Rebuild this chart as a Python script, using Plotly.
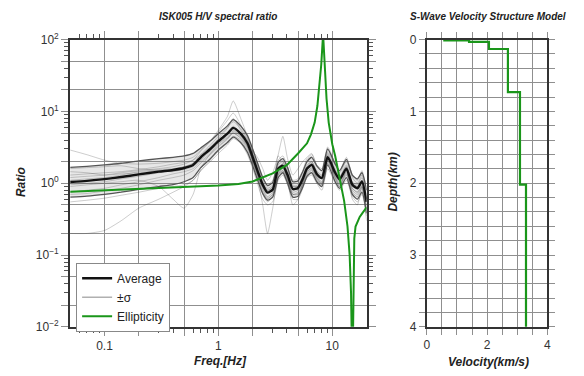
import math
import plotly.graph_objects as go

# ---------------- data: H/V spectral ratio ----------------
FREQ = [0.05, 0.07, 0.1, 0.14, 0.2, 0.3, 0.4, 0.5, 0.6, 0.7, 0.85, 1.0, 1.2, 1.35, 1.57,
        1.8, 2.0, 2.2, 2.45, 2.7, 3.0, 3.35, 3.68, 4.05, 4.5, 5.0, 5.5, 6.0, 6.6, 7.3,
        8.1, 9.1, 10.6, 11.6, 13.3, 15.0, 16.6, 18.2, 20.0]

AVERAGE = [1.04, 1.08, 1.14, 1.22, 1.33, 1.45, 1.53, 1.63, 1.8, 2.3, 3.0, 3.85, 4.9, 5.9, 4.9,
           3.6, 2.3, 1.5, 0.95, 0.74, 0.82, 1.6, 1.75, 1.3, 0.83, 0.86, 1.15, 1.6, 1.8, 1.35,
           1.18, 2.3, 1.4, 1.13, 1.6, 0.95, 0.85, 1.05, 0.55]

SIGMA_UP = [1.66, 1.72, 1.8, 1.9, 2.05, 2.2, 2.3, 2.4, 2.6, 3.1, 3.9, 4.9, 6.3, 7.7, 6.3,
            4.6, 3.0, 1.95, 1.2, 0.93, 1.03, 1.95, 2.2, 1.65, 1.05, 1.08, 1.45, 2.0, 2.3, 1.75,
            1.5, 3.0, 1.85, 1.5, 2.15, 1.3, 1.15, 1.4, 0.8]

SIGMA_DN = [0.64, 0.66, 0.7, 0.75, 0.82, 0.9, 0.96, 1.05, 1.2, 1.65, 2.2, 2.9, 3.7, 4.4, 3.7,
            2.7, 1.75, 1.13, 0.72, 0.58, 0.64, 1.2, 1.4, 1.0, 0.64, 0.66, 0.88, 1.25, 1.4, 1.05,
            0.9, 1.8, 1.05, 0.85, 1.2, 0.7, 0.6, 0.75, 0.38]

WIN_01 = [2.9, 2.5, 2.1, 1.9, 1.85, 1.9, 2.0, 2.1, 2.3, 2.9, 3.8, 5.2, 7.5, 9.5, 6.5, 4.2, 2.6, 1.8, 1.2, 0.95,
          1.1, 2.1, 2.4, 1.7, 1.1, 1.15, 1.5, 2.2, 2.5, 1.8, 1.6, 3.2, 1.9, 1.5, 2.3, 1.3, 1.1, 1.5, 0.8]
WIN_02 = [0.55, 0.58, 0.62, 0.68, 0.75, 0.85, 0.9, 0.95, 1.1, 1.5, 2.0, 2.6, 3.4, 4.2, 3.6, 2.5, 1.6, 1.0, 0.6, 0.5,
          0.55, 1.1, 1.3, 0.95, 0.6, 0.6, 0.85, 1.2, 1.3, 1.0, 0.8, 1.6, 1.0, 0.8, 1.1, 0.65, 0.55, 0.7, 0.35]
WIN_03 = [1.6, 1.65, 1.7, 1.75, 1.6, 1.5, 1.45, 1.6, 1.9, 2.5, 3.4, 4.5, 6.0, 7.2, 5.8, 4.0, 2.6, 1.7, 1.05, 0.8,
          0.9, 1.8, 2.0, 1.4, 0.9, 0.95, 1.3, 1.8, 2.0, 1.5, 1.3, 2.6, 1.6, 1.25, 1.8, 1.05, 0.95, 1.2, 0.6]
WIN_04 = [0.9, 0.95, 1.0, 1.05, 1.1, 0.9, 0.6, 0.45, 0.7, 1.6, 2.6, 3.5, 4.3, 5.0, 4.3, 3.2, 2.1, 1.35, 0.85, 0.65,
          0.75, 1.4, 1.6, 1.2, 0.75, 0.8, 1.05, 1.4, 1.65, 1.25, 1.05, 2.1, 1.3, 1.05, 1.45, 0.85, 0.75, 0.95, 0.5]
WIN_05 = [1.3, 1.35, 1.4, 1.45, 1.55, 1.7, 1.85, 1.95, 2.1, 2.5, 3.2, 4.2, 5.8, 8.0, 5.5, 3.9, 2.5, 1.6, 1.0, 0.8,
          0.9, 2.4, 2.0, 1.5, 0.95, 0.9, 1.2, 1.7, 2.0, 1.45, 1.25, 2.4, 1.5, 1.2, 1.7, 1.0, 0.9, 1.1, 0.6]
WIN_06 = [0.75, 0.8, 0.85, 0.95, 1.05, 1.2, 1.35, 1.45, 1.6, 2.0, 2.6, 3.3, 4.2, 5.2, 4.5, 3.3, 2.1, 1.35, 0.7, 0.55,
          0.65, 1.3, 1.5, 1.15, 0.7, 0.75, 1.0, 1.45, 1.6, 1.2, 1.0, 2.0, 1.25, 1.0, 1.4, 0.85, 0.75, 0.9, 0.45]
WIN_07 = [1.2, 1.25, 1.3, 1.4, 1.5, 1.6, 1.7, 1.85, 2.1, 2.8, 3.9, 5.5, 8.5, 14.0, 8.0, 4.5, 2.8, 1.8, 1.1, 0.85,
          0.95, 1.5, 1.9, 1.35, 0.85, 0.9, 1.2, 1.6, 1.9, 1.4, 1.2, 2.5, 1.5, 1.2, 1.7, 1.0, 0.9, 1.1, 0.6]
WIN_08 = [0.95, 1.0, 1.05, 1.15, 1.25, 1.4, 1.5, 1.55, 1.7, 2.1, 2.8, 3.6, 4.5, 5.4, 4.6, 3.3, 2.0, 1.2, 0.5, 0.2,
          0.45, 1.3, 1.7, 1.1, 0.5, 0.6, 1.0, 1.5, 1.7, 1.2, 1.0, 2.1, 1.2, 0.9, 1.5, 0.6, 0.5, 0.9, 0.3]
WIN_09 = [1.1, 1.15, 1.2, 1.3, 1.45, 1.55, 1.6, 1.7, 1.9, 2.4, 3.1, 4.0, 5.1, 6.2, 5.0, 3.7, 2.4, 1.55, 1.0, 0.78,
          0.85, 1.7, 1.8, 1.35, 0.9, 0.9, 1.2, 1.65, 1.9, 1.4, 1.2, 2.4, 1.45, 1.15, 1.65, 1.0, 0.9, 1.1, 0.55]
WIN_10 = [1.45, 1.4, 1.3, 1.35, 1.4, 1.5, 1.55, 1.7, 1.85, 2.2, 2.9, 3.8, 4.8, 5.6, 4.8, 3.7, 2.8, 2.3, 1.6, 1.1,
          1.4, 2.5, 4.5, 2.2, 1.3, 1.6, 2.0, 2.3, 2.6, 1.8, 1.5, 2.7, 1.8, 1.4, 2.0, 1.2, 1.0, 1.3, 0.7]
WIN_11 = [0.7, 0.72, 0.78, 0.85, 0.95, 1.1, 1.2, 1.3, 1.5, 1.9, 2.5, 3.2, 4.1, 5.0, 4.2, 3.1, 2.0, 1.3, 0.8, 0.62,
          0.7, 1.35, 1.5, 1.1, 0.7, 0.72, 1.0, 1.35, 1.55, 1.15, 0.95, 1.9, 1.2, 0.95, 1.35, 0.8, 0.7, 0.9, 0.42]
WIN_12 = [0.2, 0.2, 0.22, 0.3, 0.45, 0.6, 0.75, 0.9, 1.1, 1.5, 2.1, 2.8, 3.6, 4.5, 4.0, 2.9, 1.9, 1.2, 0.75, 0.6,
          0.7, 1.2, 1.45, 1.05, 0.7, 0.7, 0.95, 1.3, 1.5, 1.1, 0.95, 1.9, 1.15, 0.9, 1.3, 0.75, 0.65, 0.85, 0.4]

# theoretical ellipticity
ELL_FREQ = [0.05, 0.1, 0.2, 0.5, 1.0, 1.5, 2.0, 3.0, 4.0, 5.0, 6.0, 6.5, 7.0, 7.4, 7.7, 8.0, 8.3,
            8.6, 8.9, 9.3, 10.0, 10.6, 11.6, 12.7, 13.6, 14.2, 14.6, 14.8, 15.2, 15.35, 15.6,
            16.0, 17.4, 18.5, 20.0]
ELL_RATIO = [0.76, 0.80, 0.84, 0.88, 0.93, 0.98, 1.06, 1.37, 1.8, 2.6, 3.6, 4.8, 7.0, 12.0, 22.0, 45.0, 120.0,
             45.0, 15.0, 7.0, 3.5, 2.4, 1.13, 0.57, 0.25, 0.1, 0.03, 0.008, 0.008, 0.05, 0.17,
             0.25, 0.34, 0.39, 0.46]

# ---------------- data: S-wave velocity model ----------------
VS_KMS = [0.58, 1.4, 2.06, 2.69, 3.09, 3.29, 3.29]
DEPTH_TOP_KM = [0.0, 0.01, 0.03, 0.13, 0.73, 2.02, 4.5]

# ---------------- tick definitions ----------------
X_TICKS = [0.1, 1, 10]
X_TICKTEXT = ["0.1", "1", "10"]
X_GRID = [0.2, 0.5, 2, 5]
X_SMALL = [0.06, 0.07, 0.08, 0.09, 0.3, 0.4, 0.6, 0.7, 0.8, 0.9, 3, 4, 6, 7, 8, 9]
Y_TICKS = [0.01, 0.1, 1, 10, 100]
Y_TICKTEXT = ["10<sup>−2</sup>", "10<sup>−1</sup>", "10<sup>0</sup>", "10<sup>1</sup>", "10<sup>2</sup>"]
Y_GRID = [0.02, 0.05, 0.2, 0.5, 2, 5, 20, 50]
Y_SMALL = [0.03, 0.04, 0.06, 0.07, 0.08, 0.09, 0.3, 0.4, 0.6, 0.7, 0.8, 0.9,
           3, 4, 6, 7, 8, 9, 30, 40, 60, 70, 80, 90]
V_TICKS = [0, 2, 4]
V_TICKTEXT = ["0", "2", "4"]
D_TICKS = [0, 1, 2, 3, 4]
D_TICKTEXT = ["0", "1", "2", "3", "4"]

WINDOWS = [WIN_01, WIN_02, WIN_03, WIN_04, WIN_05, WIN_06, WIN_07, WIN_08, WIN_09, WIN_10, WIN_11, WIN_12]

# ---------------- layout helpers (pixels -> paper) ----------------
W, H = 584, 376
def px(x):
    return x / W
def py(y):
    return (H - y) / H

FONT = "Liberation Sans, Arial, Helvetica, sans-serif"
GREEN = "#1a961a"
GRID = "#8f8f8f"
AXLINE = "#333333"

fig = go.Figure()

for w in WINDOWS:
    fig.add_trace(go.Scatter(x=FREQ, y=w, mode="lines", xaxis="x", yaxis="y",
                             line=dict(color="rgba(60,60,60,0.33)", width=0.8, shape="spline", smoothing=0.6),
                             showlegend=False, hoverinfo="skip"))

fig.add_trace(go.Scatter(x=FREQ, y=SIGMA_UP, mode="lines", xaxis="x", yaxis="y",
                         line=dict(color="#555555", width=1.3, shape="spline", smoothing=0.6),
                         showlegend=False, hoverinfo="skip"))
fig.add_trace(go.Scatter(x=FREQ, y=SIGMA_DN, mode="lines", xaxis="x", yaxis="y",
                         line=dict(color="#555555", width=1.3, shape="spline", smoothing=0.6),
                         fill="tonexty", fillcolor="rgba(110,110,110,0.17)",
                         showlegend=False, hoverinfo="skip"))

fig.add_trace(go.Scatter(x=FREQ, y=AVERAGE, mode="lines", name="Average", xaxis="x", yaxis="y",
                         line=dict(color="#111111", width=2.4, shape="spline", smoothing=0.6),
                         legendrank=1))
fig.add_trace(go.Scatter(x=[None], y=[None], mode="lines", name="±σ", xaxis="x", yaxis="y",
                         line=dict(color="#b0b0b0", width=1.5), legendrank=2))
fig.add_trace(go.Scatter(x=ELL_FREQ, y=ELL_RATIO, mode="lines", name="Ellipticity", xaxis="x", yaxis="y",
                         line=dict(color=GREEN, width=2), legendrank=3))

fig.add_trace(go.Scatter(x=VS_KMS, y=DEPTH_TOP_KM, mode="lines", xaxis="x2", yaxis="y2",
                         line=dict(color=GREEN, width=2.2, shape="vh"), showlegend=False))

# empty trace carrying the overlay axes used for the short unlabeled ticks
fig.add_trace(go.Scatter(x=[None], y=[None], mode="lines", xaxis="x3", yaxis="y3",
                         showlegend=False, hoverinfo="skip"))

tickfont = dict(family=FONT, size=12, color="#333333")
frame = dict(showline=True, linecolor=AXLINE, linewidth=2, mirror="ticks", zeroline=False)

XR = [math.log10(0.05), math.log10(20)]
YR = [-2, 2]

fig.update_layout(
    width=W, height=H,
    margin=dict(l=0, r=0, t=0, b=0),
    paper_bgcolor="white", plot_bgcolor="white",
    font=dict(family=FONT, size=12, color="#222222"),
    xaxis=dict(type="log", range=XR, domain=[px(68), px(368)], anchor="y",
               tickmode="array", tickvals=X_TICKS, ticktext=X_TICKTEXT,
               ticks="outside", ticklen=7, tickcolor=GRID, tickwidth=1, tickfont=tickfont,
               showgrid=True, gridcolor=GRID, gridwidth=1,
               minor=dict(tickmode="array", tickvals=X_GRID, ticks="outside", ticklen=7,
                          tickcolor=GRID, showgrid=True, gridcolor=GRID, gridwidth=1),
               **frame),
    yaxis=dict(type="log", range=YR, domain=[py(332), py(32)], anchor="x",
               tickmode="array", tickvals=Y_TICKS, ticktext=Y_TICKTEXT,
               ticks="outside", ticklen=7, tickcolor=GRID, tickwidth=1, tickfont=tickfont,
               showgrid=True, gridcolor=GRID, gridwidth=1,
               minor=dict(tickmode="array", tickvals=Y_GRID, ticks="outside", ticklen=7,
                          tickcolor=GRID, showgrid=True, gridcolor=GRID, gridwidth=1),
               **frame),
    xaxis3=dict(type="log", range=XR, domain=[px(68), px(368)], overlaying="x", anchor="y3",
                tickmode="array", tickvals=X_SMALL, showticklabels=False,
                ticks="outside", ticklen=4, tickcolor="#555555", tickwidth=1, showgrid=False,
                **frame),
    yaxis3=dict(type="log", range=YR, domain=[py(332), py(32)], overlaying="y", anchor="x3",
                tickmode="array", tickvals=Y_SMALL, showticklabels=False,
                ticks="outside", ticklen=4, tickcolor="#555555", tickwidth=1, showgrid=False,
                **frame),
    xaxis2=dict(range=[0, 4], domain=[px(429), px(551)], anchor="y2",
                tickmode="array", tickvals=V_TICKS, ticktext=V_TICKTEXT,
                ticks="outside", ticklen=6, tickcolor=GRID, tickwidth=1, tickfont=tickfont,
                showgrid=True, gridcolor=GRID, gridwidth=1,
                minor=dict(dtick=0.5, ticks="outside", ticklen=6, tickcolor=GRID,
                           showgrid=True, gridcolor=GRID, gridwidth=1),
                **frame),
    yaxis2=dict(range=[4, 0], domain=[py(332), py(32)], anchor="x2",
                tickmode="array", tickvals=D_TICKS, ticktext=D_TICKTEXT,
                ticks="outside", ticklen=6, tickcolor=GRID, tickwidth=1, tickfont=tickfont,
                showgrid=True, gridcolor=GRID, gridwidth=1,
                minor=dict(dtick=0.2, ticks="outside", ticklen=6, tickcolor=GRID,
                           showgrid=True, gridcolor=GRID, gridwidth=1),
                **frame),
    legend=dict(x=px(74), y=py(265), xanchor="left", yanchor="top",
                bgcolor="white", bordercolor="#888888", borderwidth=1,
                font=dict(family=FONT, size=12, color="#222222"),
                itemwidth=30, tracegroupgap=0, traceorder="normal"),
    showlegend=True,
)

def label(text, x, y, size=12, angle=0):
    fig.add_annotation(text=text, x=px(x), y=py(y), xref="paper", yref="paper",
                       xanchor="center", yanchor="middle", showarrow=False, textangle=angle,
                       font=dict(family=FONT, size=size, color="#222222"))

label("<b><i>ISK005 H/V spectral ratio</i></b>", 218, 8, size=10)
label("<b><i>S-Wave Velocity Structure Model</i></b>", 491, 8, size=10)
label("<b><i>Ratio</i></b>", 19, 181, angle=-90)
label("<b><i>Freq.[Hz]</i></b>", 220, 368)
label("<b><i>Depth(km)</i></b>", 395, 181, angle=-90)
label("<b><i>Velocity(km/s)</i></b>", 491, 369)

fig.write_html("out.html")
